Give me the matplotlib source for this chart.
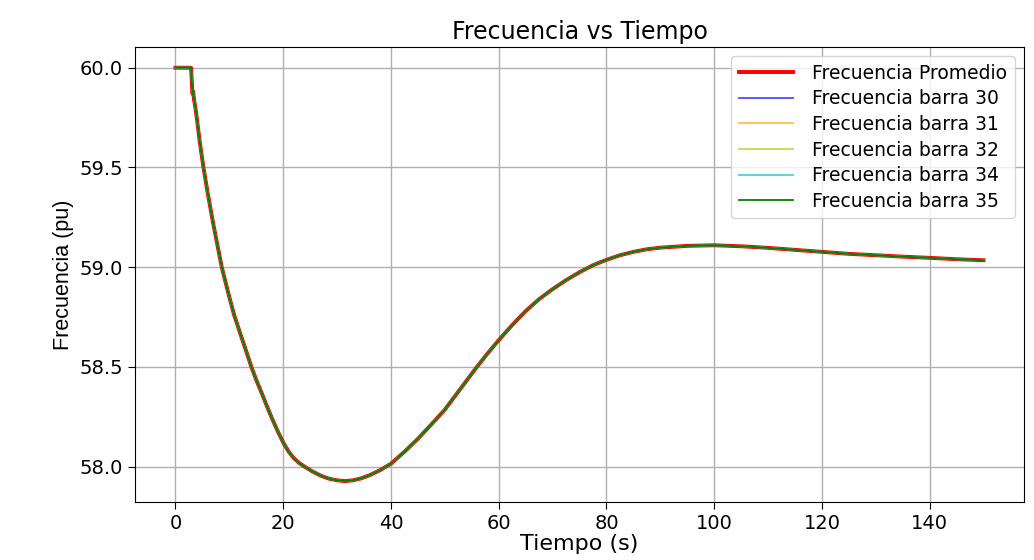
import matplotlib
matplotlib.use("Agg")
import matplotlib.pyplot as plt

# tiempo (s) y frecuencia promedio
tiempo = [0, 2.9, 3.0, 3.15, 3.3, 3.45, 3.7, 4, 4.5, 5.2, 6, 7, 8.6, 10, 10.9, 12, 13,
          14.1, 15, 16, 17, 18, 19, 20, 21, 22, 23, 24, 25.5, 27, 28.5, 30, 31.5,
          33, 34.5, 36, 38, 40, 42.5, 45, 47.5, 50, 52, 54, 55.8, 58, 60, 62.5, 65,
          67.5, 70, 72.5, 75, 77.5, 80, 82.5, 85, 87.5, 90, 95, 100, 105, 110,
          115, 120, 125, 130, 135, 140, 145, 150]
freq_promedio = [60.0, 60.0, 59.95, 59.87, 59.88, 59.84, 59.8, 59.74, 59.63, 59.5,
                 59.37, 59.22, 59.0, 58.85, 58.76, 58.67, 58.59, 58.5, 58.435,
                 58.37, 58.302, 58.237, 58.177, 58.122, 58.076, 58.042, 58.018, 58.0,
                 57.975, 57.955, 57.94, 57.932, 57.928, 57.932, 57.942, 57.957,
                 57.983, 58.015, 58.075, 58.14, 58.212, 58.286, 58.358, 58.43, 58.495,
                 58.57, 58.634, 58.71, 58.78, 58.84, 58.89, 58.935, 58.975, 59.01,
                 59.037, 59.06, 59.077, 59.09, 59.098, 59.107, 59.11, 59.105, 59.097,
                 59.087, 59.077, 59.067, 59.06, 59.053, 59.047, 59.04, 59.035]

# las barras se superponen con el promedio en toda la simulacion
barras = [30, 31, 32, 34, 35]
freq_barras = [freq_promedio, freq_promedio, freq_promedio, freq_promedio, freq_promedio]
colores = ['blue', 'orange', 'y', 'c', 'g']

fig = plt.figure(figsize=(10.34, 5.6), dpi=100)
ax = fig.add_axes([0.1306, 0.104, 0.8597, 0.812])

ax.plot(tiempo, freq_promedio, color='red', linewidth=2.8, label='Frecuencia Promedio')
for barra, freq, color in zip(barras, freq_barras, colores):
    alpha = 1.0 if barra == 35 else 0.7
    ax.plot(tiempo, freq, color=color, linewidth=1.3, alpha=alpha,
            label=f'Frecuencia barra {barra}')

ax.set_title('Frecuencia vs Tiempo', fontsize=17)
ax.set_xlabel('Tiempo (s)', fontsize=16, labelpad=1)
ax.set_ylabel('Frecuencia (pu)', fontsize=15.5,
              family=['Liberation Sans', 'DejaVu Sans'])
ax.set_xticks([0, 20, 40, 60, 80, 100, 120, 140])
ax.set_yticks([58.0, 58.5, 59.0, 59.5, 60.0])
ax.tick_params(labelsize=14, length=5)
ax.grid(True, linewidth=1.0)

ax.legend(loc='upper right', fontsize=13.5, labelspacing=0.35, handlelength=2.9,
          handletextpad=1.0)

fig.savefig('out.png', dpi=100)
